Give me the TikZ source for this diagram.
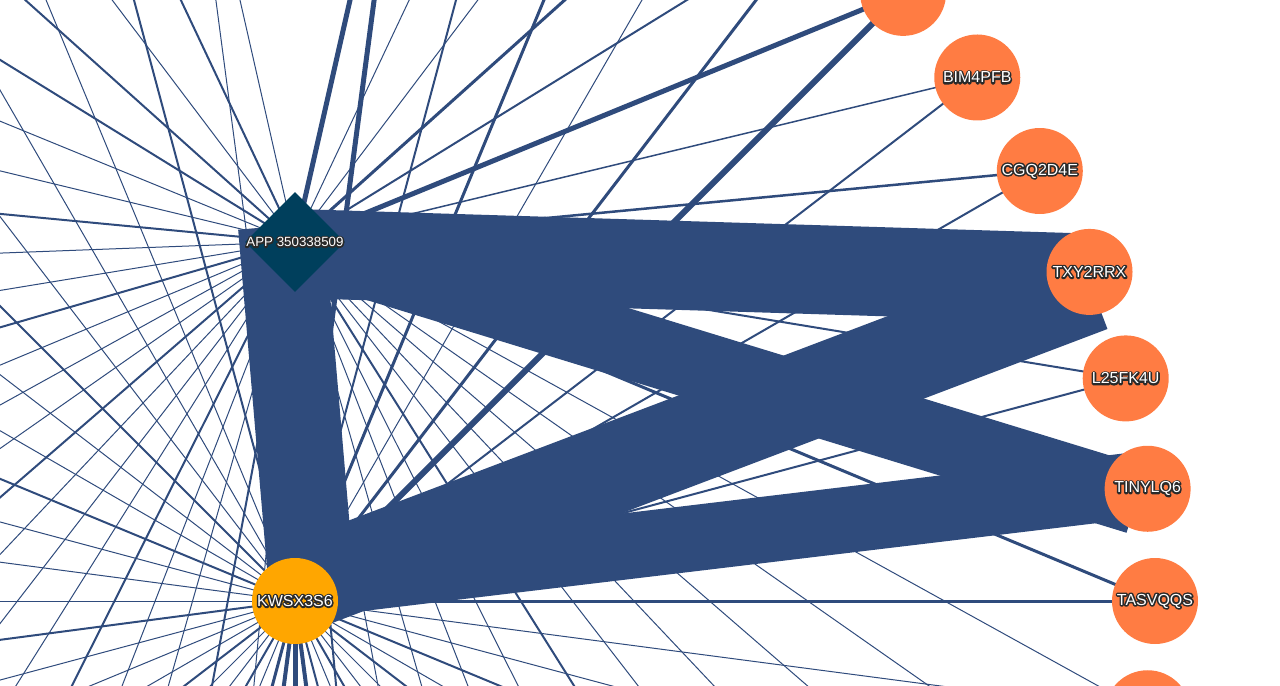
\documentclass[tikz,border=0pt]{standalone}
\usepackage{fontspec}
\setmainfont{Liberation Sans}
\usetikzlibrary{shapes.geometric, calc}

\definecolor{linkblue}{HTML}{2F4B7C}
\definecolor{appteal}{HTML}{003F5C}
\definecolor{ringorange}{HTML}{FF7C43}
\definecolor{hubamber}{HTML}{FFA600}
\definecolor{haloink}{HTML}{2A2A2A}

% white letters over a dark stroked copy
\newcommand{\halo}[1]{{\color{haloink}\special{pdf:literal direct 2 Tr 2.3 w 1 j}\rlap{#1}\special{pdf:literal direct 0 Tr}}#1}

\pgfdeclarelayer{links}
\pgfdeclarelayer{bands}
\pgfsetlayers{links,bands,main}

\begin{document}
\begin{tikzpicture}[x=0.75pt, y=-0.75pt,
    link/.style={draw=linkblue, line width=#1*0.75pt},
    link/.default={1},
    band/.style={draw=linkblue, line width=#1*0.75pt},
    ringnode/.style={circle, fill=#1, minimum size=64.5pt, inner sep=0pt, text=white, font=\fontsize{12}{14}\selectfont},
    ringnode/.default={ringorange},
    hub/.style={diamond, fill=appteal, minimum width=75pt, minimum height=75pt, inner sep=0pt},
    hubtext/.style={text=white, font=\fontsize{10}{12}\selectfont}
]
\useasboundingbox (0,0) rectangle (1280,685);
\clip (0,0) rectangle (1280,685);

% === HUBS ===
\node[hub] (app) at (295,242) {};
\node[hubtext] (applabel) at (app.center) {\halo{APP 350338509}};
\node[ringnode=hubamber] (kw) at (295,601) {\halo{KWSX3S6}};

% === RING (48 places round KWSX3S6) ===
\foreach \k in {0,...,47}
    \coordinate (r\k) at ($(kw.center)+(-7.5*\k:860)$);

\node[ringnode] (tasvqqs) at (r0) {\halo{TASVQQS}};
\node[ringnode] (tinylq6) at (r1) {\halo{TINYLQ6}};
\node[ringnode] (l25fk4u) at (r2) {\halo{L25FK4U}};
\node[ringnode] (txy2rrx) at (r3) {\halo{TXY2RRX}};
\node[ringnode] (cgq2d4e) at (r4) {\halo{CGQ2D4E}};
\node[ringnode] (bim4pfb) at (r5) {\halo{BIM4PFB}};
\node[ringnode] (topring) at (r6) {};
\node[ringnode] (lowring) at (r47) {};

% === THIN LINKS ===
\begin{pgfonlayer}{links}
\foreach \k/\wa/\wk in {0/3/3, 2/2/2, 4/2.5/2, 5/1.5/2, 6/5/6, 7/2/3, 8/3/1, 9/1/3, 10/1/2, 11/5/5,
        13/1/1, 14/2/2, 15/1/1, 16/2/1, 17/2/1, 18/1/2, 19/1/1, 20/2/1, 21/1/2, 22/1/1,
        23/2/1, 24/1/1, 25/1/2, 26/1/1, 27/2/1, 28/1/1, 29/1/2, 30/1/1, 31/2/1, 32/1/2,
        33/1/1, 34/2/3, 35/1/4, 36/1/5, 37/2/4, 38/1/2, 39/1/1, 40/1/2, 41/1/1, 42/2/1,
        43/1/2, 44/1/1, 45/1/2, 46/1/1, 47/1/1} {
    \draw[link=\wa] (r\k) -- (app.center);
    \draw[link=\wk] (r\k) -- (kw.center);
}
\end{pgfonlayer}

% === HEAVY LINKS ===
\begin{pgfonlayer}{bands}
\draw[band=89] ($(app.center)+(0,11.5)$) -- ($(txy2rrx.center)+(10,6.5)$);
\draw[band=69] (app.center) -- ($(tinylq6.center)+(-11,11)$);
\draw[band=90] ($(kw.center)+(0,-12)$) -- ($(txy2rrx.center)+(2,15)$);
\draw[band=66] ($(kw.center)+(0,-15)$) -- ($(tinylq6.center)+(-8,-4)$);
\draw[band=86] ($(app.center)+(-14,-16)$) -- ($(kw.center)+(18,0)$);
\end{pgfonlayer}

\end{tikzpicture}
\end{document}
